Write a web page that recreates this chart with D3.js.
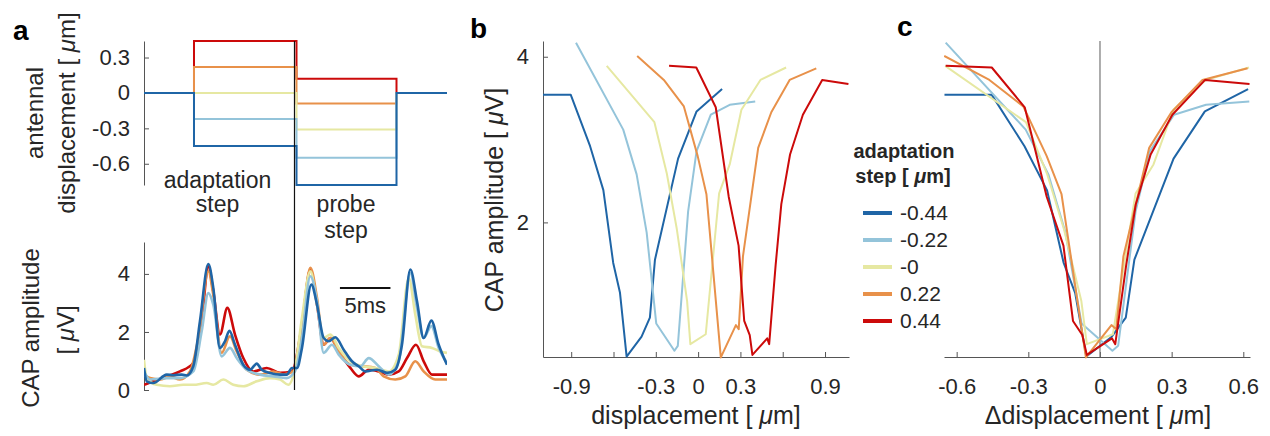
<!DOCTYPE html>
<html><head><meta charset="utf-8">
<script src="https://cdn.jsdelivr.net/npm/d3@7"></script>
<style>
body{margin:0;background:#fff}
svg{display:block}
text{font-family:"Liberation Sans",Arial,Helvetica,sans-serif;fill:#262626}
</style>
</head><body>
<svg id="chart" width="1270" height="436"></svg>
<script>
// ---------- data ----------
const seriesLabels = ["-0.44", "-0.22", "-0", "0.22", "0.44"];
const seriesColors = ["#1f65a6", "#94c4da", "#e6e8a2", "#e8914a", "#cc0a0a"];
const adaptLevel = [-0.45, -0.22, 0, 0.22, 0.44];
const probeLevel = [-0.78, -0.55, -0.31, -0.09, 0.12];
const stepTimes = [0, 4.95, 15.1, 25.0, 30];   // ms: start, adaptation on, probe on, probe off, end
const dividerTime = 14.9;
const scaleBarStart = 19.4, scaleBarLength = 5;

const dispTicksA = [0.3, 0, -0.3, -0.6];
const capTicks = [0, 2, 4];
const ampTicks = [2, 4];
const dispTicksB = [-0.9, -0.6, -0.3, 0, 0.3, 0.6, 0.9];
const dispTickLabelsB = [-0.9, -0.3, 0, 0.3, 0.9];
const deltaTicks = [-0.6, -0.3, 0, 0.3, 0.6];

// CAP traces (time ms, amplitude uV)
const capT0 = [0,0.27,0.92,2.25,2.90,3.73,4.23,4.88,5.54,6.37,6.86,7.52,8.02,8.45,9.01,9.83,10.50,11.16,11.65,12.48,13.47,14.13,14.65,15.15,15.64,16.57,17.13,17.79,18.29,18.94,19.77,20.59,21.26,21.91,23.07,24.06,24.88,25.54,26.37,27.03,27.69,28.45,29.18,30.0];
const capV0 = [0.76,0.30,0.24,0.53,0.51,0.53,0.50,0.82,2.37,4.34,3.52,1.45,1.68,2.04,1.56,0.87,0.70,0.91,0.70,0.59,0.53,0.53,0.76,0.76,1.45,3.63,2.94,1.79,1.68,1.82,1.39,0.99,0.82,0.64,0.70,0.59,0.70,1.56,4.15,3.06,1.79,2.39,1.56,0.87];
const capT1 = [0,0.59,2.25,3.56,4.88,5.71,6.37,6.86,7.69,8.51,9.18,10.17,11.49,12.80,14.13,14.95,15.64,16.47,17.13,17.79,18.61,19.28,20.43,21.42,22.25,23.24,24.23,25.22,26.37,27.03,27.69,28.45,29.18,30.0];
const capV1 = [0.64,0.36,0.41,0.41,0.64,2.02,3.34,2.94,1.16,1.45,1.10,0.70,0.53,0.47,0.41,0.64,1.79,3.92,3.06,1.28,1.56,1.22,0.87,0.82,1.10,0.82,0.53,0.99,4.03,2.83,1.79,2.20,1.45,0.93];
const capT2 = [0,0.27,1.26,2.57,3.89,4.88,6.21,6.86,7.85,8.84,9.83,11.16,12.48,13.47,14.29,14.95,15.64,16.47,17.13,17.79,18.45,19.28,20.43,21.58,22.90,24.23,25.22,26.21,26.86,27.52,28.51,29.34,30.0];
const capV2 = [1.04,0.41,0.18,0.13,0.18,0.18,0.24,0.18,0.36,0.18,0.13,0.30,0.41,0.36,0.18,0.75,2.48,4.09,2.94,1.79,1.91,1.45,0.99,0.82,0.76,0.64,1.22,3.86,2.60,1.51,1.45,1.33,1.28];
const capT3 = [0,0.59,1.58,2.57,3.56,4.55,5.38,6.37,6.86,7.69,8.51,9.18,10.17,11.49,12.80,13.79,14.78,15.64,16.47,17.13,17.79,18.45,19.28,20.43,21.58,22.90,23.73,24.88,25.87,26.86,27.69,28.84,30.0];
const capV3 = [0.53,0.41,0.36,0.47,0.36,0.64,1.79,4.09,3.29,1.28,1.85,1.33,0.70,0.53,0.64,0.53,0.64,2.25,4.21,3.17,1.56,1.79,1.33,0.87,0.82,0.76,0.47,0.36,0.47,0.99,0.64,0.36,0.36];
const capT4 = [0,0.92,2.25,3.56,4.88,5.71,6.37,6.86,7.52,8.25,9.01,9.83,10.82,12.15,13.47,14.65,15.64,16.47,17.13,17.79,18.45,19.28,20.43,21.26,22.25,23.24,24.23,25.22,26.04,26.93,27.69,28.51,30.0];
const capV4 = [0.18,0.30,0.47,0.64,0.93,2.37,4.26,3.40,1.91,2.83,1.91,1.10,0.64,0.76,0.59,0.64,2.25,4.15,2.94,1.56,1.79,1.33,0.76,0.47,0.70,0.64,0.53,0.64,1.10,1.56,0.99,0.53,0.53];

// probe displacement (um) vs CAP amplitude (uV)
const probeX0 = [-1.101,-0.903,-0.766,-0.672,-0.602,-0.554,-0.507,-0.401,-0.342,-0.306,-0.142,-0.011,0.170];
const ampY0   = [3.54,3.54,2.92,2.39,1.51,1.15,0.38,0.62,0.85,1.55,2.77,3.34,3.61];
const probeX1 = [-0.866,-0.531,-0.436,-0.365,-0.297,-0.168,-0.144,-0.071,-0.011,0.090,0.224,0.405];
const ampY1   = [4.17,3.12,2.58,1.88,0.78,0.45,0.51,2.13,2.86,3.30,3.42,3.46];
const probeX2 = [-0.648,-0.310,-0.222,-0.151,-0.078,-0.055,0.054,0.149,0.224,0.307,0.442,0.624];
const ampY2   = [3.89,3.21,2.59,1.92,1.05,0.53,0.65,2.35,2.70,3.36,3.72,3.87];
const probeX3 = [-0.432,-0.243,-0.101,-0.003,0.059,0.161,0.268,0.288,0.318,0.426,0.519,0.649,0.838];
const ampY3   = [4.01,3.72,3.40,2.80,2.34,0.37,0.76,0.71,1.59,2.90,3.33,3.72,3.86];
const probeX4 = [-0.206,-0.013,0.125,0.217,0.287,0.327,0.366,0.385,0.490,0.504,0.550,0.590,0.652,0.743,0.880,1.066];
const ampY4   = [3.89,3.87,3.39,2.31,1.72,0.81,0.64,0.40,0.60,0.53,1.49,2.22,2.82,3.30,3.72,3.67];

const capT = [capT0, capT1, capT2, capT3, capT4];
const capV = [capV0, capV1, capV2, capV3, capV4];
const probeX = [probeX0, probeX1, probeX2, probeX3, probeX4];
const ampY = [ampY0, ampY1, ampY2, ampY3, ampY4];

// ---------- drawing ----------
const svg = d3.select("#chart");
const axisColor = "#555", textColor = "#262626";
const defs = svg.append("defs");

function styleAxis(g, fs) {
  g.attr("font-size", null).attr("font-family", null);
  g.select(".domain").attr("stroke", axisColor).attr("stroke-width", 1);
  g.selectAll(".tick line").attr("stroke", axisColor);
  g.selectAll(".tick text").attr("fill", textColor).style("font-size", fs + "px");
}
function addText(x, y, parts, o) {
  o = o || {};
  const t = svg.append("text")
    .attr("text-anchor", o.anchor || "middle")
    .style("font-size", (o.size || 24) + "px")
    .style("font-weight", o.bold ? "bold" : null)
    .attr("transform", `translate(${x},${y})` + (o.rot ? ` rotate(${o.rot})` : ""));
  parts.forEach(p => {
    const s = t.append("tspan").text(p[0]);
    if (p[1]) s.style("font-style", "italic");
  });
  return t;
}

// ===== Panel a =====
const xa = d3.scaleLinear().domain([0, 30]).range([144, 447]);
const yaTop = d3.scaleLinear().domain([-0.78, 0.44]).range([185, 41]);
const yaBot = d3.scaleLinear().domain([0, 5.1]).range([390, 242]);

svg.append("g").attr("transform", `translate(${xa(0)},0)`)
  .call(d3.axisLeft(yaTop).tickValues(dispTicksA).tickFormat(d => String(d)).tickSize(-5).tickSizeOuter(0).tickPadding(14))
  .call(g => styleAxis(g, 22));
svg.append("g").attr("transform", `translate(${xa(0)},0)`)
  .call(d3.axisLeft(yaBot).tickValues(capTicks).tickFormat(d => String(d)).tickSize(-5).tickSizeOuter(0).tickPadding(14))
  .call(g => styleAxis(g, 22));

// step stimuli (dark blue drawn last, on top)
const stepLine = d3.line().x(d => xa(d[0])).y(d => yaTop(d[1]));
[4, 3, 2, 1, 0].forEach(i => {
  const a = adaptLevel[i], p = probeLevel[i];
  const pts = [[stepTimes[0], 0], [stepTimes[1], 0], [stepTimes[1], a], [stepTimes[2], a],
               [stepTimes[2], p], [stepTimes[3], p], [stepTimes[3], 0], [stepTimes[4], 0]];
  svg.append("path").attr("d", stepLine(pts)).attr("fill", "none")
    .attr("stroke", seriesColors[i]).attr("stroke-width", 2);
});

// CAP traces
defs.append("clipPath").attr("id", "clipA").append("rect")
  .attr("x", xa(0)).attr("y", 230).attr("width", xa(30) - xa(0)).attr("height", 170);
const capLine = d3.line().x(d => xa(d[0])).y(d => yaBot(d[1])).curve(d3.curveMonotoneX);
[4, 3, 2, 1, 0].forEach(i => {
  const pts = capT[i].map((t, k) => [t, capV[i][k]]);
  svg.append("path").attr("clip-path", "url(#clipA)").attr("d", capLine(pts))
    .attr("fill", "none").attr("stroke", seriesColors[i]).attr("stroke-width", 2.6)
    .attr("stroke-linejoin", "round");
});

// divider line
svg.append("line").attr("x1", xa(dividerTime)).attr("x2", xa(dividerTime))
  .attr("y1", 41).attr("y2", 390).attr("stroke", "#111").attr("stroke-width", 1.2);

// scale bar
svg.append("line").attr("x1", xa(scaleBarStart)).attr("x2", xa(scaleBarStart + scaleBarLength))
  .attr("y1", 288).attr("y2", 288).attr("stroke", "#111").attr("stroke-width", 2);
addText((xa(scaleBarStart) + xa(scaleBarStart + scaleBarLength)) / 2, 313, [["5ms"]], {size: 22});

// annotations
addText(217.5, 188, [["adaptation"]], {size: 23});
addText(217.5, 212, [["step"]], {size: 23});
addText(346, 212, [["probe"]], {size: 23});
addText(346, 238, [["step"]], {size: 23});

// axis titles panel a
addText(43, 113, [["antennal"]], {rot: -90, size: 24});
addText(75, 113, [["displacement [ "], ["\u03BC", true], ["m]"]], {rot: -90, size: 24});
addText(39, 328, [["CAP amplitude"]], {rot: -90, size: 24});
addText(74, 330, [["[ "], ["\u03BC", true], ["V]"]], {rot: -90, size: 24});

// ===== Panel b =====
const xb = d3.scaleLinear().domain([-1.1, 1.07]).range([543, 849]);
const yb = d3.scaleLinear().domain([0.375, 4.19]).range([357, 41]);

svg.append("g").attr("transform", `translate(0,${yb.range()[0]})`)
  .call(d3.axisBottom(xb).tickValues(dispTicksB)
    .tickFormat(d => dispTickLabelsB.includes(d) ? String(d) : "")
    .tickSize(-5).tickSizeOuter(0).tickPadding(21))
  .call(g => styleAxis(g, 22));
svg.append("g").attr("transform", `translate(${xb.range()[0]},0)`)
  .call(d3.axisLeft(yb).tickValues(ampTicks).tickFormat(d => String(d)).tickSize(-5).tickSizeOuter(0).tickPadding(14))
  .call(g => styleAxis(g, 22));

defs.append("clipPath").attr("id", "clipB").append("rect")
  .attr("x", 543).attr("y", 35).attr("width", 306).attr("height", 325);
const lineB = d3.line().x(d => xb(d[0])).y(d => yb(d[1]));
probeX.forEach((xs, i) => {
  const pts = xs.map((x, k) => [x, ampY[i][k]]);
  svg.append("path").attr("clip-path", "url(#clipB)").attr("d", lineB(pts)).attr("fill", "none")
    .attr("stroke", seriesColors[i]).attr("stroke-width", 2).attr("stroke-linejoin", "round");
});

addText(696, 424, [["displacement [ "], ["\u03BC", true], ["m]"]], {size: 25});
addText(503, 200, [["CAP amplitude [ "], ["\u03BC", true], ["V]"]], {rot: -90, size: 25});

// ===== Panel c =====
const xc = d3.scaleLinear().domain([-0.653, 0.628]).range([944, 1250]);
const yc = yb;

svg.append("g").attr("transform", `translate(0,${yc.range()[0]})`)
  .call(d3.axisBottom(xc).tickValues(deltaTicks).tickFormat(d => String(d))
    .tickSize(-5).tickSizeOuter(0).tickPadding(21))
  .call(g => styleAxis(g, 22));

svg.append("line").attr("x1", xc(0)).attr("x2", xc(0)).attr("y1", 41).attr("y2", yc.range()[0])
  .attr("stroke", "#777").attr("stroke-width", 1.2);

defs.append("clipPath").attr("id", "clipC").append("rect")
  .attr("x", 944).attr("y", 35).attr("width", 306).attr("height", 325);
const lineC = d3.line().x(d => xc(d[0])).y(d => yc(d[1]));
probeX.forEach((xs, i) => {
  const pts = xs.map((x, k) => [x - adaptLevel[i], ampY[i][k]]);
  svg.append("path").attr("clip-path", "url(#clipC)").attr("d", lineC(pts)).attr("fill", "none")
    .attr("stroke", seriesColors[i]).attr("stroke-width", 2).attr("stroke-linejoin", "round");
});

addText(1098, 424, [["\u0394"], ["displacement [ "], ["\u03BC", true], ["m]"]], {size: 25});

// legend
addText(904, 158, [["adaptation"]], {size: 20, bold: true});
addText(903, 183, [["step [ "], ["\u03BC", true], ["m]"]], {size: 20, bold: true});
seriesLabels.forEach((lab, i) => {
  const y = 213 + i * 27;
  svg.append("line").attr("x1", 863).attr("x2", 892).attr("y1", y).attr("y2", y)
    .attr("stroke", seriesColors[i]).attr("stroke-width", 4);
  addText(900, y + 7, [[lab]], {size: 21, anchor: "start"});
});

// panel letters
addText(13, 40, [["a"]], {size: 28, bold: true, anchor: "start"}).style("fill", "#000");
addText(470, 38, [["b"]], {size: 28, bold: true, anchor: "start"}).style("fill", "#000");
addText(897, 36, [["c"]], {size: 28, bold: true, anchor: "start"}).style("fill", "#000");
</script>
</body></html>
